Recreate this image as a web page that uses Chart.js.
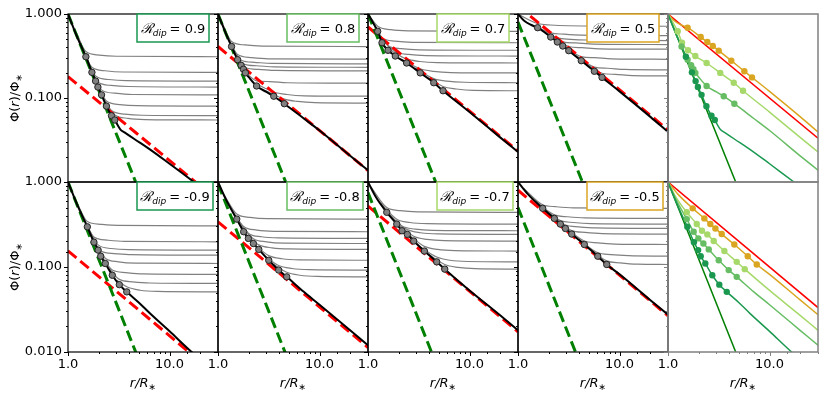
<!DOCTYPE html>
<html>
<head>
<meta charset="utf-8">
<script src="https://cdn.jsdelivr.net/npm/chart.js@4.4.1/dist/chart.umd.min.js"></script>
<style>
  body { margin: 0; background: #fff; width: 830px; height: 399px; position: relative; overflow: hidden; }
  canvas { position: absolute; }
</style>
</head>
<body>
<script>
// R_dip values per column, top row and bottom row
const topRdip = ['0.9', '0.8', '0.7', '0.5'];
const bottomRdip = ['-0.9', '-0.8', '-0.7', '-0.5'];

// black profiles, [r/R*, Phi/Phi*]
const black09 = [[1,1],[1.25,0.51],[1.5,0.31],[1.72,0.202],[1.87,0.159],[1.97,0.135],[2.14,0.109],[2.39,0.08],[2.68,0.0616],[2.89,0.0547],[3.1,0.047],[3.3,0.0418],[3.6,0.039],[4.5,0.0325],[6.4,0.0245],[10,0.0165],[17.4,0.01],[30,0.0062]];
const black08 = [[1,1],[1.2,0.58],[1.36,0.41],[1.56,0.286],[1.69,0.245],[1.78,0.22],[1.86,0.199],[2.0,0.178],[2.4,0.139],[3,0.118],[3.54,0.105],[4.5,0.0855],[7,0.057],[10,0.041],[20,0.0205],[30,0.0138]];
const black07 = [[1,1],[1.12,0.79],[1.246,0.622],[1.374,0.455],[1.574,0.37],[1.858,0.316],[2.4,0.261],[3.27,0.199],[4.44,0.152],[5.48,0.122],[10,0.068],[20,0.034],[30,0.0228]];
const black05 = [[1,1],[1.15,0.83],[1.35,0.74],[1.56,0.687],[2.1,0.532],[2.44,0.464],[2.76,0.416],[3.16,0.366],[4.2,0.278],[5.65,0.208],[6.72,0.176],[10,0.12],[20,0.06],[30,0.0394]];
const blackM09 = [[1,1],[1.25,0.52],[1.55,0.297],[1.8,0.196],[1.98,0.158],[2.1,0.134],[2.33,0.11],[2.73,0.08],[3.2,0.062],[3.79,0.051],[5,0.038],[6.4,0.0285],[10,0.0175],[16.5,0.01],[30,0.0055]];
const blackM08 = [[1,1],[1.2,0.62],[1.53,0.366],[1.79,0.26],[1.99,0.217],[2.23,0.189],[2.52,0.161],[3.16,0.12],[3.96,0.092],[4.75,0.0766],[7,0.051],[10,0.036],[20,0.018],[30,0.012]];
const blackM07 = [[1,1],[1.2,0.66],[1.53,0.44],[1.92,0.32],[2.16,0.267],[2.44,0.242],[2.82,0.202],[3.59,0.154],[4.75,0.115],[5.7,0.0944],[10,0.053],[20,0.027],[30,0.018]];
const blackM05 = [[1,1],[1.25,0.72],[1.75,0.49],[2.28,0.373],[2.61,0.32],[2.93,0.284],[3.38,0.244],[4.5,0.184],[6.1,0.134],[7.48,0.107],[10,0.082],[20,0.041],[30,0.0275]];

// marked points on the black profiles
const dots09 = [[1.5,0.31],[1.72,0.202],[1.87,0.159],[1.97,0.135],[2.14,0.109],[2.39,0.08],[2.68,0.0616],[2.89,0.0547]];
const dots08 = [[1.36,0.41],[1.56,0.286],[1.69,0.245],[1.78,0.22],[1.86,0.199],[2.4,0.139],[3.54,0.105],[4.5,0.0855]];
const dots07 = [[1.246,0.622],[1.374,0.455],[1.574,0.37],[1.858,0.316],[2.4,0.261],[3.27,0.199],[4.44,0.152],[5.48,0.122]];
const dots05 = [[1.56,0.687],[2.1,0.532],[2.44,0.464],[2.76,0.416],[3.16,0.366],[4.2,0.278],[5.65,0.208],[6.72,0.176]];
const dotsM09 = [[1.55,0.297],[1.8,0.196],[1.98,0.158],[2.1,0.134],[2.33,0.11],[2.73,0.08],[3.2,0.062],[3.79,0.051]];
const dotsM08 = [[1.53,0.366],[1.79,0.26],[1.99,0.217],[2.23,0.189],[2.52,0.161],[3.16,0.12],[3.96,0.092],[4.75,0.0766]];
const dotsM07 = [[1.53,0.44],[1.92,0.32],[2.16,0.267],[2.44,0.242],[2.82,0.202],[3.59,0.154],[4.75,0.115],[5.7,0.0944]];
const dotsM05 = [[1.75,0.49],[2.28,0.373],[2.61,0.32],[2.93,0.284],[3.38,0.244],[4.5,0.184],[6.1,0.134],[7.48,0.107]];

// grey profiles that level off
const gray09 = [
  [[1.2,0.605],[1.5,0.357],[2.03,0.324],[3.0,0.314],[30,0.31]],
  [[1.38,0.394],[1.72,0.232],[2.32,0.211],[3.44,0.204],[30,0.202]],
  [[1.5,0.32],[1.87,0.183],[2.52,0.166],[3.74,0.161],[30,0.159]],
  [[1.58,0.263],[1.97,0.155],[2.66,0.141],[3.94,0.137],[30,0.135]],
  [[1.71,0.213],[2.14,0.125],[2.89,0.114],[4.28,0.11],[30,0.109]],
  [[1.91,0.156],[2.39,0.092],[3.23,0.0836],[4.78,0.081],[30,0.08]],
  [[2.14,0.112],[2.68,0.0708],[3.62,0.0644],[5.36,0.0623],[30,0.0616]],
  [[2.31,0.09],[2.89,0.0629],[3.9,0.0572],[5.78,0.0554],[30,0.0547]]
];
const gray08 = [
  [[1.09,0.79],[1.36,0.47],[1.84,0.428],[2.72,0.415],[30,0.41]],
  [[1.25,0.53],[1.56,0.329],[2.11,0.303],[3.12,0.293],[30,0.29]],
  [[1.35,0.43],[1.69,0.282],[2.28,0.266],[3.38,0.258],[30,0.255]],
  [[1.42,0.377],[1.78,0.253],[2.4,0.242],[3.56,0.235],[30,0.232]],
  [[1.49,0.335],[1.86,0.229],[2.51,0.219],[3.72,0.213],[30,0.21]],
  [[1.92,0.196],[2.4,0.16],[3.24,0.157],[4.8,0.152],[30,0.15]],
  [[2.3,0.15],[3.54,0.118],[4.78,0.11],[7.08,0.106],[30,0.105]],
  [[2.93,0.123],[4.5,0.097],[6.08,0.091],[9,0.088],[30,0.087]]
];
const gray07 = [
  [[1.0,1.0],[1.246,0.715],[1.68,0.65],[2.49,0.63],[30,0.622]],
  [[1.1,0.82],[1.374,0.523],[1.85,0.475],[2.75,0.46],[30,0.455]],
  [[1.18,0.7],[1.574,0.42],[2.12,0.387],[3.15,0.375],[30,0.37]],
  [[1.3,0.545],[1.858,0.355],[2.51,0.33],[3.72,0.32],[30,0.316]],
  [[1.56,0.385],[2.4,0.292],[3.24,0.272],[4.8,0.264],[30,0.261]],
  [[2.13,0.292],[3.27,0.223],[4.41,0.208],[6.54,0.201],[30,0.199]],
  [[2.89,0.228],[4.44,0.17],[6.0,0.159],[8.88,0.154],[30,0.152]],
  [[3.56,0.188],[5.48,0.137],[7.4,0.128],[11,0.123],[30,0.122]]
];
const gray05 = [
  [[1.01,0.99],[1.56,0.77],[2.1,0.74],[3.12,0.725],[30,0.715]],
  [[1.37,0.745],[2.1,0.596],[2.84,0.575],[4.2,0.56],[30,0.553]],
  [[1.59,0.69],[2.44,0.52],[3.29,0.5],[4.88,0.49],[30,0.483]],
  [[1.79,0.63],[2.76,0.466],[3.73,0.452],[5.52,0.438],[30,0.433]],
  [[2.05,0.555],[3.16,0.41],[4.27,0.397],[6.32,0.385],[30,0.381]],
  [[2.73,0.435],[4.2,0.311],[5.67,0.302],[8.4,0.293],[30,0.289]],
  [[3.67,0.325],[5.65,0.233],[7.63,0.226],[11.3,0.219],[30,0.216]],
  [[4.37,0.275],[6.72,0.197],[9.07,0.191],[13.4,0.185],[30,0.183]]
];
const grayM09 = [
  [[1.24,0.55],[1.55,0.342],[2.09,0.318],[3.1,0.309],[30,0.305]],
  [[1.44,0.37],[1.8,0.225],[2.43,0.207],[3.6,0.2],[30,0.198]],
  [[1.58,0.29],[1.98,0.182],[2.67,0.165],[3.96,0.16],[30,0.158]],
  [[1.68,0.245],[2.1,0.154],[2.84,0.144],[4.2,0.14],[30,0.138]],
  [[1.86,0.186],[2.33,0.127],[3.15,0.115],[4.66,0.111],[30,0.11]],
  [[2.18,0.131],[2.73,0.092],[3.69,0.086],[5.46,0.083],[30,0.082]],
  [[2.56,0.096],[3.2,0.0715],[4.32,0.067],[6.4,0.0648],[30,0.064]],
  [[3.03,0.07],[3.79,0.0585],[5.12,0.0533],[7.58,0.0516],[30,0.051]]
];
const grayM08 = [
  [[1.15,0.7],[1.53,0.42],[2.07,0.383],[3.06,0.37],[30,0.366]],
  [[1.34,0.49],[1.79,0.3],[2.42,0.272],[3.58,0.263],[30,0.26]],
  [[1.49,0.4],[1.99,0.25],[2.69,0.227],[3.98,0.22],[30,0.217]],
  [[1.67,0.313],[2.23,0.215],[3.01,0.198],[4.46,0.191],[30,0.189]],
  [[1.89,0.243],[2.52,0.182],[3.4,0.168],[5.04,0.163],[30,0.161]],
  [[2.37,0.177],[3.16,0.136],[4.27,0.125],[6.32,0.121],[30,0.12]],
  [[2.97,0.132],[3.96,0.104],[5.35,0.096],[7.92,0.093],[30,0.092]],
  [[3.56,0.107],[4.75,0.0866],[6.41,0.08],[9.5,0.0775],[30,0.0766]]
];
const grayM07 = [
  [[1.07,0.87],[1.53,0.5],[2.07,0.46],[3.06,0.445],[30,0.44]],
  [[1.34,0.56],[1.92,0.365],[2.59,0.334],[3.84,0.324],[30,0.32]],
  [[1.51,0.46],[2.16,0.303],[2.92,0.279],[4.32,0.27],[30,0.267]],
  [[1.71,0.378],[2.44,0.275],[3.29,0.253],[4.88,0.245],[30,0.242]],
  [[1.97,0.318],[2.82,0.23],[3.81,0.211],[5.64,0.204],[30,0.202]],
  [[2.51,0.24],[3.59,0.175],[4.85,0.161],[7.18,0.156],[30,0.154]],
  [[3.33,0.169],[4.75,0.131],[6.41,0.12],[9.5,0.116],[30,0.115]],
  [[3.99,0.14],[5.7,0.107],[7.7,0.099],[11.4,0.0955],[30,0.0944]]
];
const grayM05 = [
  [[1.14,0.84],[1.75,0.54],[2.36,0.512],[3.5,0.496],[30,0.49]],
  [[1.48,0.6],[2.28,0.41],[3.08,0.39],[4.56,0.378],[30,0.373]],
  [[1.7,0.515],[2.61,0.352],[3.52,0.334],[5.22,0.324],[30,0.32]],
  [[1.9,0.455],[2.93,0.312],[3.96,0.297],[5.86,0.288],[30,0.284]],
  [[2.2,0.393],[3.38,0.268],[4.56,0.255],[6.76,0.247],[30,0.244]],
  [[2.93,0.29],[4.5,0.202],[6.08,0.192],[9,0.186],[30,0.184]],
  [[3.97,0.212],[6.1,0.147],[8.24,0.14],[12.2,0.136],[30,0.134]],
  [[4.86,0.173],[7.48,0.118],[10.1,0.112],[15,0.108],[30,0.107]]
];

// dashed power laws (r^-1 red, r^-3 green), two end points each
const redTop = [[[1,0.18],[30,0.006]], [[1,0.41],[30,0.0137]], [[1,0.7],[30,0.0233]], [[1,1.25],[30,0.0417]]];
const greenTop = [[[1,1],[30,0.000037]], [[1,1],[30,0.000037]], [[1,1],[30,0.000037]], [[1,0.8],[30,0.0000296]]];
const redBottom = [[[1,0.155],[30,0.00517]], [[1,0.34],[30,0.0113]], [[1,0.52],[30,0.0173]], [[1,0.8],[30,0.0267]]];
const greenBottom = [[[1,1],[30,0.000037]], [[1,0.95],[30,0.0000352]], [[1,0.75],[30,0.0000278]], [[1,0.5],[30,0.0000185]]];
const redUnit = [[1,1],[30,0.0333]];
const greenUnit = [[1,1],[30,0.000037]];

const rdipColors = ['#1a9850', '#66bd63', '#a6d96a', '#daa520'];

// layout
const colLeft = [68, 218, 368, 518, 668];
const rowTop = [14, 182];
const rowH = [168, 170];
const W = 150, PL = 66, PR = 12, PT = 12, PB = 46;
const FONT = '"DejaVu Sans"';

Chart.defaults.font.family = FONT;
Chart.defaults.font.size = 13;
Chart.defaults.color = '#000';

function pts(a) { return a.map(p => ({ x: p[0], y: p[1] })); }

function lineDs(a, color, width, order, dash) {
  return {
    data: pts(a), borderColor: color, borderWidth: width, borderDash: dash || [],
    pointRadius: 0, fill: false, order: order, clip: 0,
    cubicInterpolationMode: 'monotone'
  };
}

function dotDs(a, fill, edge, r, order) {
  return {
    data: pts(a), showLine: false, pointRadius: r, order: order, clip: 0,
    pointBackgroundColor: fill, pointBorderColor: edge || fill, pointBorderWidth: edge ? 1 : 0
  };
}

function isDecade(v) {
  const l = Math.log10(v);
  return Math.abs(l - Math.round(l)) < 1e-6;
}

function drawPieces(ctx, pieces, x, y) {
  let w = 0;
  pieces.forEach(p => { ctx.font = p.f; w += ctx.measureText(p.t).width + (p.gap || 0); });
  let cx = x - w / 2;
  pieces.forEach(p => {
    ctx.font = p.f;
    ctx.fillText(p.t, cx, y + (p.dy || 0));
    cx += ctx.measureText(p.t).width + (p.gap || 0);
  });
}

function decorate(chart, row, col, label, boxColor) {
  const ctx = chart.ctx, a = chart.chartArea;
  const xs = chart.scales.x, ys = chart.scales.y;
  const edge = col === 4 ? '#808080' : '#000';
  ctx.save();
  ctx.strokeStyle = edge;
  ctx.lineWidth = 1;
  ys.ticks.forEach(t => {
    const y = Math.round(ys.getPixelForValue(t.value)) + 0.5;
    const len = isDecade(t.value) ? 4 : 2;
    ctx.beginPath(); ctx.moveTo(a.left - len, y); ctx.lineTo(a.left, y); ctx.stroke();
  });
  if (row === 1) {
    xs.ticks.forEach(t => {
      const x = Math.round(xs.getPixelForValue(t.value)) + 0.5;
      const len = isDecade(t.value) ? 4 : 2;
      ctx.beginPath(); ctx.moveTo(x, a.bottom); ctx.lineTo(x, a.bottom + len); ctx.stroke();
    });
  }
  ctx.lineWidth = col === 4 ? 1.5 : 1.2;
  ctx.strokeRect(a.left, a.top, a.right - a.left, a.bottom - a.top);

  ctx.fillStyle = '#000';
  ctx.textAlign = 'left';
  ctx.textBaseline = 'alphabetic';
  if (label) {
    const bw = row === 0 ? 72 : 76, bh = 28;
    const bx = a.left + 69, by = a.top;
    ctx.fillStyle = '#fff';
    ctx.fillRect(bx, by, bw, bh);
    ctx.strokeStyle = boxColor;
    ctx.lineWidth = 1.5;
    ctx.strokeRect(bx, by, bw, bh);
    ctx.fillStyle = '#000';
    drawPieces(ctx, [
      { t: 'ℛ', f: 'italic 14px "DejaVu Serif"' },
      { t: 'dip', f: 'italic 9px ' + FONT, dy: 3, gap: 3 },
      { t: '= ' + label, f: '13px ' + FONT }
    ], bx + bw / 2, by + bh / 2 + 5);
  }
  if (row === 1) {
    drawPieces(ctx, [
      { t: 'r/R', f: 'italic 13px ' + FONT },
      { t: '∗', f: '9px ' + FONT, dy: 3 }
    ], (a.left + a.right) / 2, a.bottom + 35);
  }
  if (col === 0) {
    ctx.translate(12, (a.top + a.bottom) / 2);
    ctx.rotate(-Math.PI / 2);
    drawPieces(ctx, [
      { t: 'Φ(', f: '13px ' + FONT },
      { t: 'r', f: 'italic 13px ' + FONT },
      { t: ')/Φ', f: '13px ' + FONT },
      { t: '∗', f: '9px ' + FONT, dy: 3 }
    ], 0, 5);
  }
  ctx.restore();
}

function panel(row, col, datasets, label, boxColor) {
  const L = colLeft[col], T = rowTop[row], H = rowH[row];
  const cv = document.createElement('canvas');
  cv.width = W + PL + PR;
  cv.height = H + PT + PB;
  cv.style.left = (L - PL) + 'px';
  cv.style.top = (T - PT) + 'px';
  cv.style.width = cv.width + 'px';
  cv.style.height = cv.height + 'px';
  document.body.appendChild(cv);
  new Chart(cv, {
    type: 'line',
    data: { datasets: datasets },
    options: {
      responsive: false,
      animation: false,
      events: [],
      layout: { padding: { top: PT, right: PR, left: 0, bottom: 0 } },
      plugins: { legend: { display: false }, tooltip: { enabled: false } },
      elements: { line: { capBezierPoints: false } },
      scales: {
        x: {
          type: 'logarithmic', min: 1, max: 30,
          grid: { display: false, drawTicks: false }, border: { display: false },
          ticks: {
            display: row === 1, autoSkip: false, maxRotation: 0, minRotation: 0, padding: 5,
            callback: v => isDecade(v) ? v.toFixed(1) : ''
          },
          afterFit: s => { s.height = PB; s.paddingLeft = 0; s.paddingRight = 0; }
        },
        y: {
          type: 'logarithmic', min: 0.01, max: 1,
          grid: { display: false, drawTicks: false }, border: { display: false },
          ticks: {
            display: col === 0, autoSkip: false, padding: 6,
            callback: v => (isDecade(v) && !(row === 0 && v < 0.05)) ? v.toFixed(3) : ''
          },
          afterFit: s => { s.width = PL; s.paddingTop = 0; s.paddingBottom = 0; }
        }
      }
    },
    plugins: [{ id: 'deco', afterDatasetsDraw: chart => decorate(chart, row, col, label, boxColor) }]
  });
}

const rows = [
  { labels: topRdip, blacks: [black09, black08, black07, black05], dots: [dots09, dots08, dots07, dots05],
    grays: [gray09, gray08, gray07, gray05], reds: redTop, greens: greenTop },
  { labels: bottomRdip, blacks: [blackM09, blackM08, blackM07, blackM05], dots: [dotsM09, dotsM08, dotsM07, dotsM05],
    grays: [grayM09, grayM08, grayM07, grayM05], reds: redBottom, greens: greenBottom }
];

rows.forEach((r, row) => {
  for (let c = 0; c < 4; c++) {
    const ds = [];
    r.grays[c].forEach(g => ds.push(lineDs(g, '#808080', 1.2, 4)));
    ds.push(lineDs(r.reds[c], '#ff0000', 3, 3, [11, 5]));
    ds.push(lineDs(r.greens[c], '#008000', 3, 2, [11, 5]));
    ds.push(lineDs(r.blacks[c], '#000000', 2, 1));
    ds.push(dotDs(r.dots[c], '#808080', '#222222', 3.2, 0));
    panel(row, c, ds, r.labels[c], rdipColors[c]);
  }
  const ds5 = [lineDs(redUnit, '#ff0000', 1.5, 3), lineDs(greenUnit, '#008000', 1.5, 3)];
  for (let c = 0; c < 4; c++) {
    ds5.push(lineDs(r.blacks[c], rdipColors[c], 1.5, 2));
    ds5.push(dotDs(r.dots[c], rdipColors[c], null, 3.2, 1));
  }
  panel(row, 4, ds5, null, null);
});
</script>
</body>
</html>
